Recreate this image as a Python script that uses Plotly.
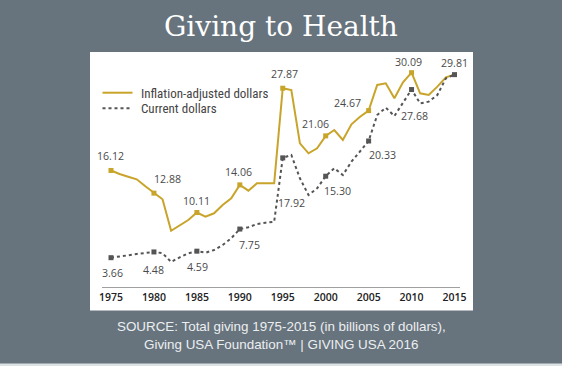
import plotly.graph_objects as go

# ---------------- data ----------------
years = list(range(1975, 2016))
inflation_adjusted = [16.12, 15.61, 15.23, 14.86, 13.86, 12.88, 12.00, 7.51, 8.29, 9.04,
                      10.11, 9.51, 10.00, 11.19, 12.14, 14.06, 13.23, 14.29, 14.29, 14.29,
                      27.87, 27.61, 20.00, 18.57, 19.29, 21.06, 21.90, 20.47, 22.71, 23.80,
                      24.67, 28.33, 28.57, 26.43, 28.71, 30.09, 27.14, 26.90, 28.09, 29.43,
                      29.81]
current_dollars = [3.66, 3.80, 4.00, 4.19, 4.37, 4.48, 4.30, 3.05, 3.71, 4.29,
                   4.59, 4.37, 4.76, 5.47, 6.43, 7.75, 8.00, 8.47, 8.66, 8.80,
                   17.92, 18.33, 15.00, 12.61, 13.57, 15.30, 16.43, 15.47, 17.37, 18.80,
                   20.33, 24.04, 25.09, 23.90, 25.71, 27.68, 25.71, 25.95, 26.90, 29.29,
                   29.81]
tick_years = [1975, 1980, 1985, 1990, 1995, 2000, 2005, 2010, 2015]
gold_marker_years = [1975, 1980, 1985, 1990, 1995, 2000, 2005, 2010]
gray_marker_years = [1975, 1980, 1985, 1990, 1995, 2000, 2005, 2010, 2015]

# label pixel offsets (dx right, dy up) per labelled year
gold_label_offsets = {1975: (-1, 14), 1980: (14, 14), 1985: (0, 12), 1990: (-1, 13),
                      1995: (2, 14), 2000: (-10, 12), 2005: (-21, 8), 2010: (-3, 11),
                      2015: (0, 12)}
gray_label_offsets = {1975: (1, -15), 1980: (0, -18), 1985: (1, -16), 1990: (10, -16),
                      1995: (9, -45), 2000: (12, -15), 2005: (14, -14), 2010: (3, -26)}

# ---------------- style ----------------
W, H = 562, 366
BG = "#67737d"
GOLD = "#c9a42a"
GRAY = "#555555"
L, R, T, B = 102, 460, 55, 287          # plot area in pixels
PPY = 8.5875                            # pixels per year
PPV = 7.0                               # pixels per billion
X0 = 1975 - (111 - L) / PPY
X1 = X0 + (R - L) / PPY
Y0 = -(B - 283.3) / PPV
Y1 = (283.3 - T) / PPV


def px(x):
    return (x - L) / (R - L)


def py(y):
    return (B - y) / (B - T)


fig = go.Figure()

fig.add_trace(go.Scatter(x=years, y=inflation_adjusted, mode="lines",
                         line=dict(color=GOLD, width=2), hoverinfo="skip",
                         showlegend=False))
gi = [years.index(y) for y in gold_marker_years]
fig.add_trace(go.Scatter(x=[years[i] for i in gi], y=[inflation_adjusted[i] for i in gi],
                         mode="markers", marker=dict(symbol="square", size=5, color=GOLD),
                         showlegend=False))
fig.add_trace(go.Scatter(x=years, y=current_dollars, mode="lines",
                         line=dict(color=GRAY, width=2, dash="dot"), hoverinfo="skip",
                         showlegend=False))
ci = [years.index(y) for y in gray_marker_years]
fig.add_trace(go.Scatter(x=[years[i] for i in ci], y=[current_dollars[i] for i in ci],
                         mode="markers", marker=dict(symbol="square", size=5, color=GRAY),
                         showlegend=False))

annotations = []
label_font = dict(family="Open Sans, Noto Sans, sans-serif", size=10.6, color="#4a4a4a")
for yr, (dx, dy) in gold_label_offsets.items():
    v = inflation_adjusted[years.index(yr)]
    annotations.append(dict(x=yr, y=v, xref="x", yref="y", text=f"{v:.2f}",
                            showarrow=False, xshift=dx, yshift=dy, font=label_font))
for yr, (dx, dy) in gray_label_offsets.items():
    v = current_dollars[years.index(yr)]
    annotations.append(dict(x=yr, y=v, xref="x", yref="y", text=f"{v:.2f}",
                            showarrow=False, xshift=dx, yshift=dy, font=label_font))

# legend (manual)
leg_font = dict(family="Liberation Sans Narrow, Roboto Condensed, Arial Narrow, sans-serif",
                size=13, color="#444444")
annotations.append(dict(x=px(139), y=py(93), xref="paper", yref="paper",
                        text="Inflation-adjusted dollars", xanchor="left", yanchor="middle",
                        showarrow=False, font=leg_font))
annotations.append(dict(x=px(139), y=py(108.5), xref="paper", yref="paper",
                        text="Current dollars", xanchor="left", yanchor="middle",
                        showarrow=False, font=leg_font))

# title and source
annotations.append(dict(x=px(W / 2), y=py(26), xref="paper", yref="paper",
                        text="Giving to Health", showarrow=False, xanchor="center",
                        yanchor="middle",
                        font=dict(family="DejaVu Serif, serif", size=28, color="white")))
src_font = dict(family="Liberation Sans, Arial, sans-serif", size=13.4, color="#eceff1")
annotations.append(dict(x=px(W / 2), y=py(326), xref="paper", yref="paper",
                        text="SOURCE: Total giving 1975-2015 (in billions of dollars),",
                        showarrow=False, xanchor="center", yanchor="middle", font=src_font))
annotations.append(dict(x=px(W / 2), y=py(344.5), xref="paper", yref="paper",
                        text="Giving USA Foundation™ | GIVING USA 2016",
                        showarrow=False, xanchor="center", yanchor="middle", font=src_font))

shapes = [
    dict(type="rect", xref="paper", yref="paper", x0=px(90), x1=px(473),
         y0=py(310.5), y1=py(52), fillcolor="white", line=dict(width=0), layer="below"),
    dict(type="rect", xref="paper", yref="paper", x0=px(0), x1=px(W),
         y0=py(366), y1=py(363.5), fillcolor="#dde2e5", line=dict(width=0), layer="below"),
    dict(type="line", xref="paper", yref="paper", x0=px(102.5), x1=px(132.5),
         y0=py(92.7), y1=py(92.7), line=dict(color=GOLD, width=2)),
    dict(type="line", xref="paper", yref="paper", x0=px(102.5), x1=px(132),
         y0=py(108.3), y1=py(108.3), line=dict(color=GRAY, width=2, dash="dot")),
]

fig.update_layout(
    width=W, height=H,
    margin=dict(l=L, r=W - R, t=T, b=H - B, pad=0),
    paper_bgcolor=BG, plot_bgcolor="rgba(0,0,0,0)",
    showlegend=False,
    annotations=annotations, shapes=shapes,
    xaxis=dict(range=[X0, X1], tickvals=tick_years, ticktext=[str(t) for t in tick_years],
               showgrid=False, zeroline=False, showline=True, linecolor="#a0a0a0",
               linewidth=1, ticks="", fixedrange=True,
               tickfont=dict(family="Open Sans, Noto Sans, sans-serif", size=10.5,
                             color="#222222", weight=600)),
    yaxis=dict(range=[Y0, Y1], visible=False, showgrid=False, zeroline=False,
               fixedrange=True),
)

fig.write_html(
    "out.html",
    config={"displayModeBar": False, "staticPlot": True},
    post_script="document.body.style.margin='0';document.body.style.padding='0';"
                "document.documentElement.style.overflow='hidden';",
)
